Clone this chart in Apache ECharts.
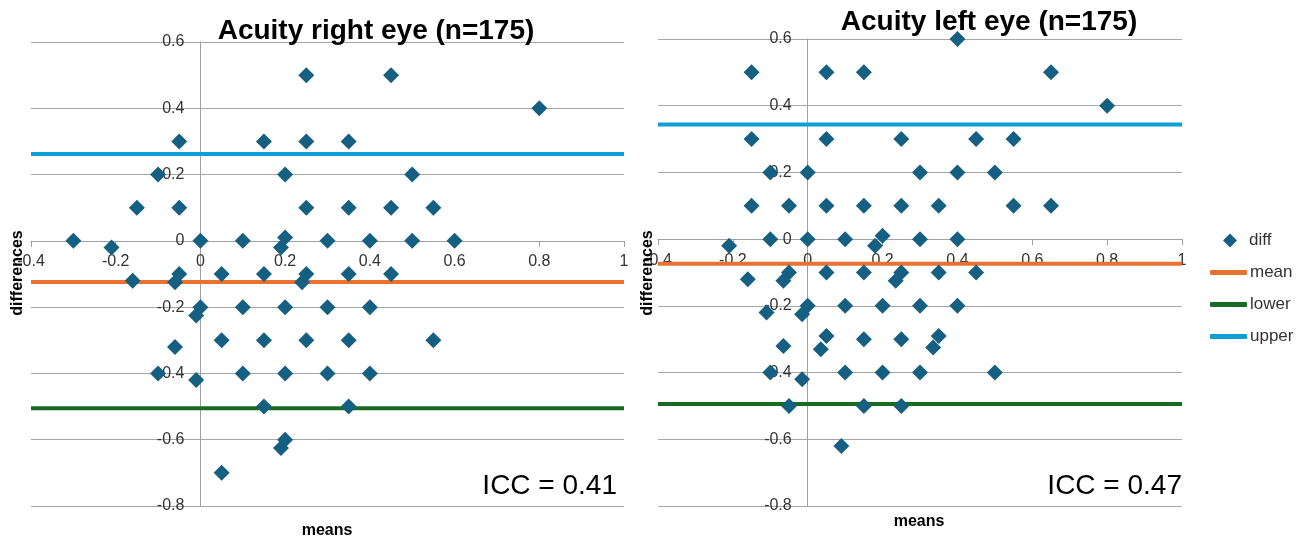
<!DOCTYPE html>
<html>
<head>
<meta charset="utf-8">
<script src="https://cdn.jsdelivr.net/npm/echarts@6/dist/echarts.min.js"></script>
<style>
html,body{margin:0;padding:0;background:#fff;}
#c{width:1304px;height:538px;}
</style>
</head>
<body>
<div id="c"></div>
<script>
// ---------- data ----------
const xTicks = [-0.4, -0.2, 0, 0.2, 0.4, 0.6, 0.8, 1];
const yTicks = [-0.8, -0.6, -0.4, -0.2, 0, 0.2, 0.4, 0.6];

// Right eye
const rightMeans = [0.25,0.45,0.8,-0.05,0.15,0.25,0.35,-0.1,0.2,0.5,-0.15,-0.05,0.25,0.35,0.45,0.55,
  -0.3,-0.21,0,0.1,0.2,0.19,0.3,0.4,0.5,0.6,
  -0.16,-0.05,-0.06,0.05,0.15,0.25,0.24,0.35,0.45,
  0,-0.01,0.1,0.2,0.3,0.4,
  -0.06,0.05,0.15,0.25,0.35,0.55,
  -0.1,-0.01,0.1,0.2,0.3,0.4,
  0.15,0.35,0.2,0.19,0.05];
const rightDiffs = [0.5,0.5,0.4,0.3,0.3,0.3,0.3,0.2,0.2,0.2,0.1,0.1,0.1,0.1,0.1,0.1,
  0,-0.02,0,0,0.01,-0.02,0,0,0,0,
  -0.12,-0.1,-0.125,-0.1,-0.1,-0.1,-0.125,-0.1,-0.1,
  -0.2,-0.225,-0.2,-0.2,-0.2,-0.2,
  -0.32,-0.3,-0.3,-0.3,-0.3,-0.3,
  -0.4,-0.42,-0.4,-0.4,-0.4,-0.4,
  -0.5,-0.5,-0.6,-0.625,-0.7];
const rightMean = -0.124, rightLower = -0.505, rightUpper = 0.262;

// Left eye
const leftMeans = [0.4,-0.15,0.05,0.15,0.65,0.8,
  -0.15,0.05,0.25,0.45,0.55,
  -0.1,0,0.3,0.4,0.5,
  -0.15,-0.05,0.05,0.15,0.25,0.35,0.55,0.65,
  -0.21,-0.1,0,0.1,0.2,0.18,0.3,0.4,
  -0.16,-0.05,-0.065,0.05,0.15,0.25,0.235,0.35,0.45,
  -0.11,0,-0.015,0.1,0.2,0.3,0.4,
  -0.065,0.05,0.035,0.15,0.25,0.35,0.335,
  -0.1,-0.015,0.1,0.2,0.3,0.5,
  -0.05,0.15,0.25,0.09];
const leftDiffs = [0.6,0.5,0.5,0.5,0.5,0.4,
  0.3,0.3,0.3,0.3,0.3,
  0.2,0.2,0.2,0.2,0.2,
  0.1,0.1,0.1,0.1,0.1,0.1,0.1,0.1,
  -0.02,0,0,0,0.01,-0.02,0,0,
  -0.12,-0.1,-0.125,-0.1,-0.1,-0.1,-0.125,-0.1,-0.1,
  -0.22,-0.2,-0.225,-0.2,-0.2,-0.2,-0.2,
  -0.32,-0.29,-0.33,-0.3,-0.3,-0.29,-0.325,
  -0.4,-0.42,-0.4,-0.4,-0.4,-0.4,
  -0.5,-0.5,-0.5,-0.62];
const leftMean = -0.074, leftLower = -0.494, leftUpper = 0.344;

const titles = ['Acuity right eye (n=175)', 'Acuity left eye (n=175)'];
const iccTexts = ['ICC = 0.41', 'ICC = 0.47'];
const seriesNames = ['diff', 'mean', 'lower', 'upper'];

// ---------- styling ----------
const C_DIFF = '#156082', C_MEAN = '#E97132', C_LOWER = '#196B24', C_UPPER = '#0F9ED5';
const FONT = "'Liberation Sans', Arial, sans-serif";
const xMin = xTicks[0], xMax = xTicks[xTicks.length - 1];
const yMin = yTicks[0], yMax = yTicks[yTicks.length - 1];

function pairs(xs, ys) { return xs.map((x, i) => [x, ys[i]]); }
function hline(v) { return [[xMin, v], [xMax, v]]; }

const grids = [
  {left: 31, top: 42, width: 593, height: 464},
  {left: 658, top: 39, width: 524, height: 467}
];

// axes cross at zero: shift the axes into the plot with a (negative) offset
function xOffset(g) { return -(g.height * (0 - yMin) / (yMax - yMin)); }
function yOffset(g) { return -(g.width * (0 - xMin) / (xMax - xMin)); }

const fmt = v => String(Math.round(v * 10) / 10);

function xAx(i) {
  return {
    type: 'value', gridIndex: i, min: xMin, max: xMax, interval: 0.2,
    position: 'bottom', offset: xOffset(grids[i]),
    axisLine: {onZero: false, lineStyle: {color: '#a0a0a0', width: 1}},
    axisTick: {show: true, length: 6, lineStyle: {color: '#a0a0a0'}},
    axisLabel: {margin: 13, color: '#333', fontSize: 16, fontFamily: FONT, formatter: fmt},
    splitLine: {show: false}
  };
}
function yAx(i) {
  return {
    type: 'value', gridIndex: i, min: yMin, max: yMax, interval: 0.2,
    position: 'left', offset: yOffset(grids[i]),
    axisLine: {onZero: false, lineStyle: {color: '#a0a0a0', width: 1}},
    axisTick: {show: false},
    axisLabel: {margin: 16, color: '#333', fontSize: 16, fontFamily: FONT, formatter: fmt},
    splitLine: {show: true, lineStyle: {color: '#a6a6a6', width: 1}}
  };
}

function seriesFor(i, xs, ys, m, lo, up) {
  const lineBase = {type: 'line', xAxisIndex: i, yAxisIndex: i, symbol: 'none', silent: true, z: 2, animation: false};
  return [
    Object.assign({}, lineBase, {name: 'mean', data: hline(m), lineStyle: {color: C_MEAN, width: 4}, itemStyle: {color: C_MEAN}}),
    Object.assign({}, lineBase, {name: 'lower', data: hline(lo), lineStyle: {color: C_LOWER, width: 4}, itemStyle: {color: C_LOWER}}),
    Object.assign({}, lineBase, {name: 'upper', data: hline(up), lineStyle: {color: C_UPPER, width: 4}, itemStyle: {color: C_UPPER}}),
    {name: 'diff', type: 'scatter', xAxisIndex: i, yAxisIndex: i, symbol: 'diamond', symbolSize: 16,
      itemStyle: {color: C_DIFF, opacity: 1}, data: pairs(xs, ys), z: 5, animation: false}
  ];
}

function txt(x, y, text, font, align) {
  return {type: 'text', x: x, y: y, silent: true, z: 10,
    style: {text: text, font: font, fill: '#000', align: align || 'center', verticalAlign: 'middle',
      textAlign: align || 'center', textVerticalAlign: 'middle'}};
}

const legendText = {fontSize: 17, fontFamily: FONT, color: '#333', lineHeight: 16};

const option = {
  backgroundColor: '#fff',
  animation: false,
  grid: grids,
  xAxis: [xAx(0), xAx(1)],
  yAxis: [yAx(0), yAx(1)],
  legend: [
    {
      orient: 'vertical', left: 1223, top: 232, itemWidth: 14, itemHeight: 14, padding: 0,
      data: [{name: seriesNames[0], icon: 'diamond'}],
      textStyle: Object.assign({}, legendText, {padding: [0, 0, 0, 7]}),
      selectedMode: false
    },
    {
      orient: 'vertical', left: 1210, top: 264, itemWidth: 37, itemHeight: 5, itemGap: 15, padding: 0,
      data: seriesNames.slice(1).map(n => ({name: n, icon: 'roundRect'})),
      textStyle: Object.assign({}, legendText, {padding: [0, 0, 0, -2]}),
      selectedMode: false
    }
  ],
  series: [].concat(
    seriesFor(0, rightMeans, rightDiffs, rightMean, rightLower, rightUpper),
    seriesFor(1, leftMeans, leftDiffs, leftMean, leftLower, leftUpper)
  ),
  graphic: [
    txt(376, 31, titles[0], "bold 28px " + FONT),
    txt(989, 22, titles[1], "bold 28px " + FONT),
    txt(617, 486, iccTexts[0], "28px " + FONT, 'right'),
    txt(1182, 486, iccTexts[1], "28px " + FONT, 'right'),
    txt(327, 531, 'means', "bold 16px " + FONT),
    txt(919, 522, 'means', "bold 16px " + FONT),
    Object.assign(txt(18, 273, 'differences', "bold 16px " + FONT), {rotation: Math.PI / 2}),
    Object.assign(txt(648, 273, 'differences', "bold 16px " + FONT), {rotation: Math.PI / 2})
  ]
};

const chart = echarts.init(document.getElementById('c'), null, {renderer: 'canvas'});
chart.setOption(option);
</script>
</body>
</html>
